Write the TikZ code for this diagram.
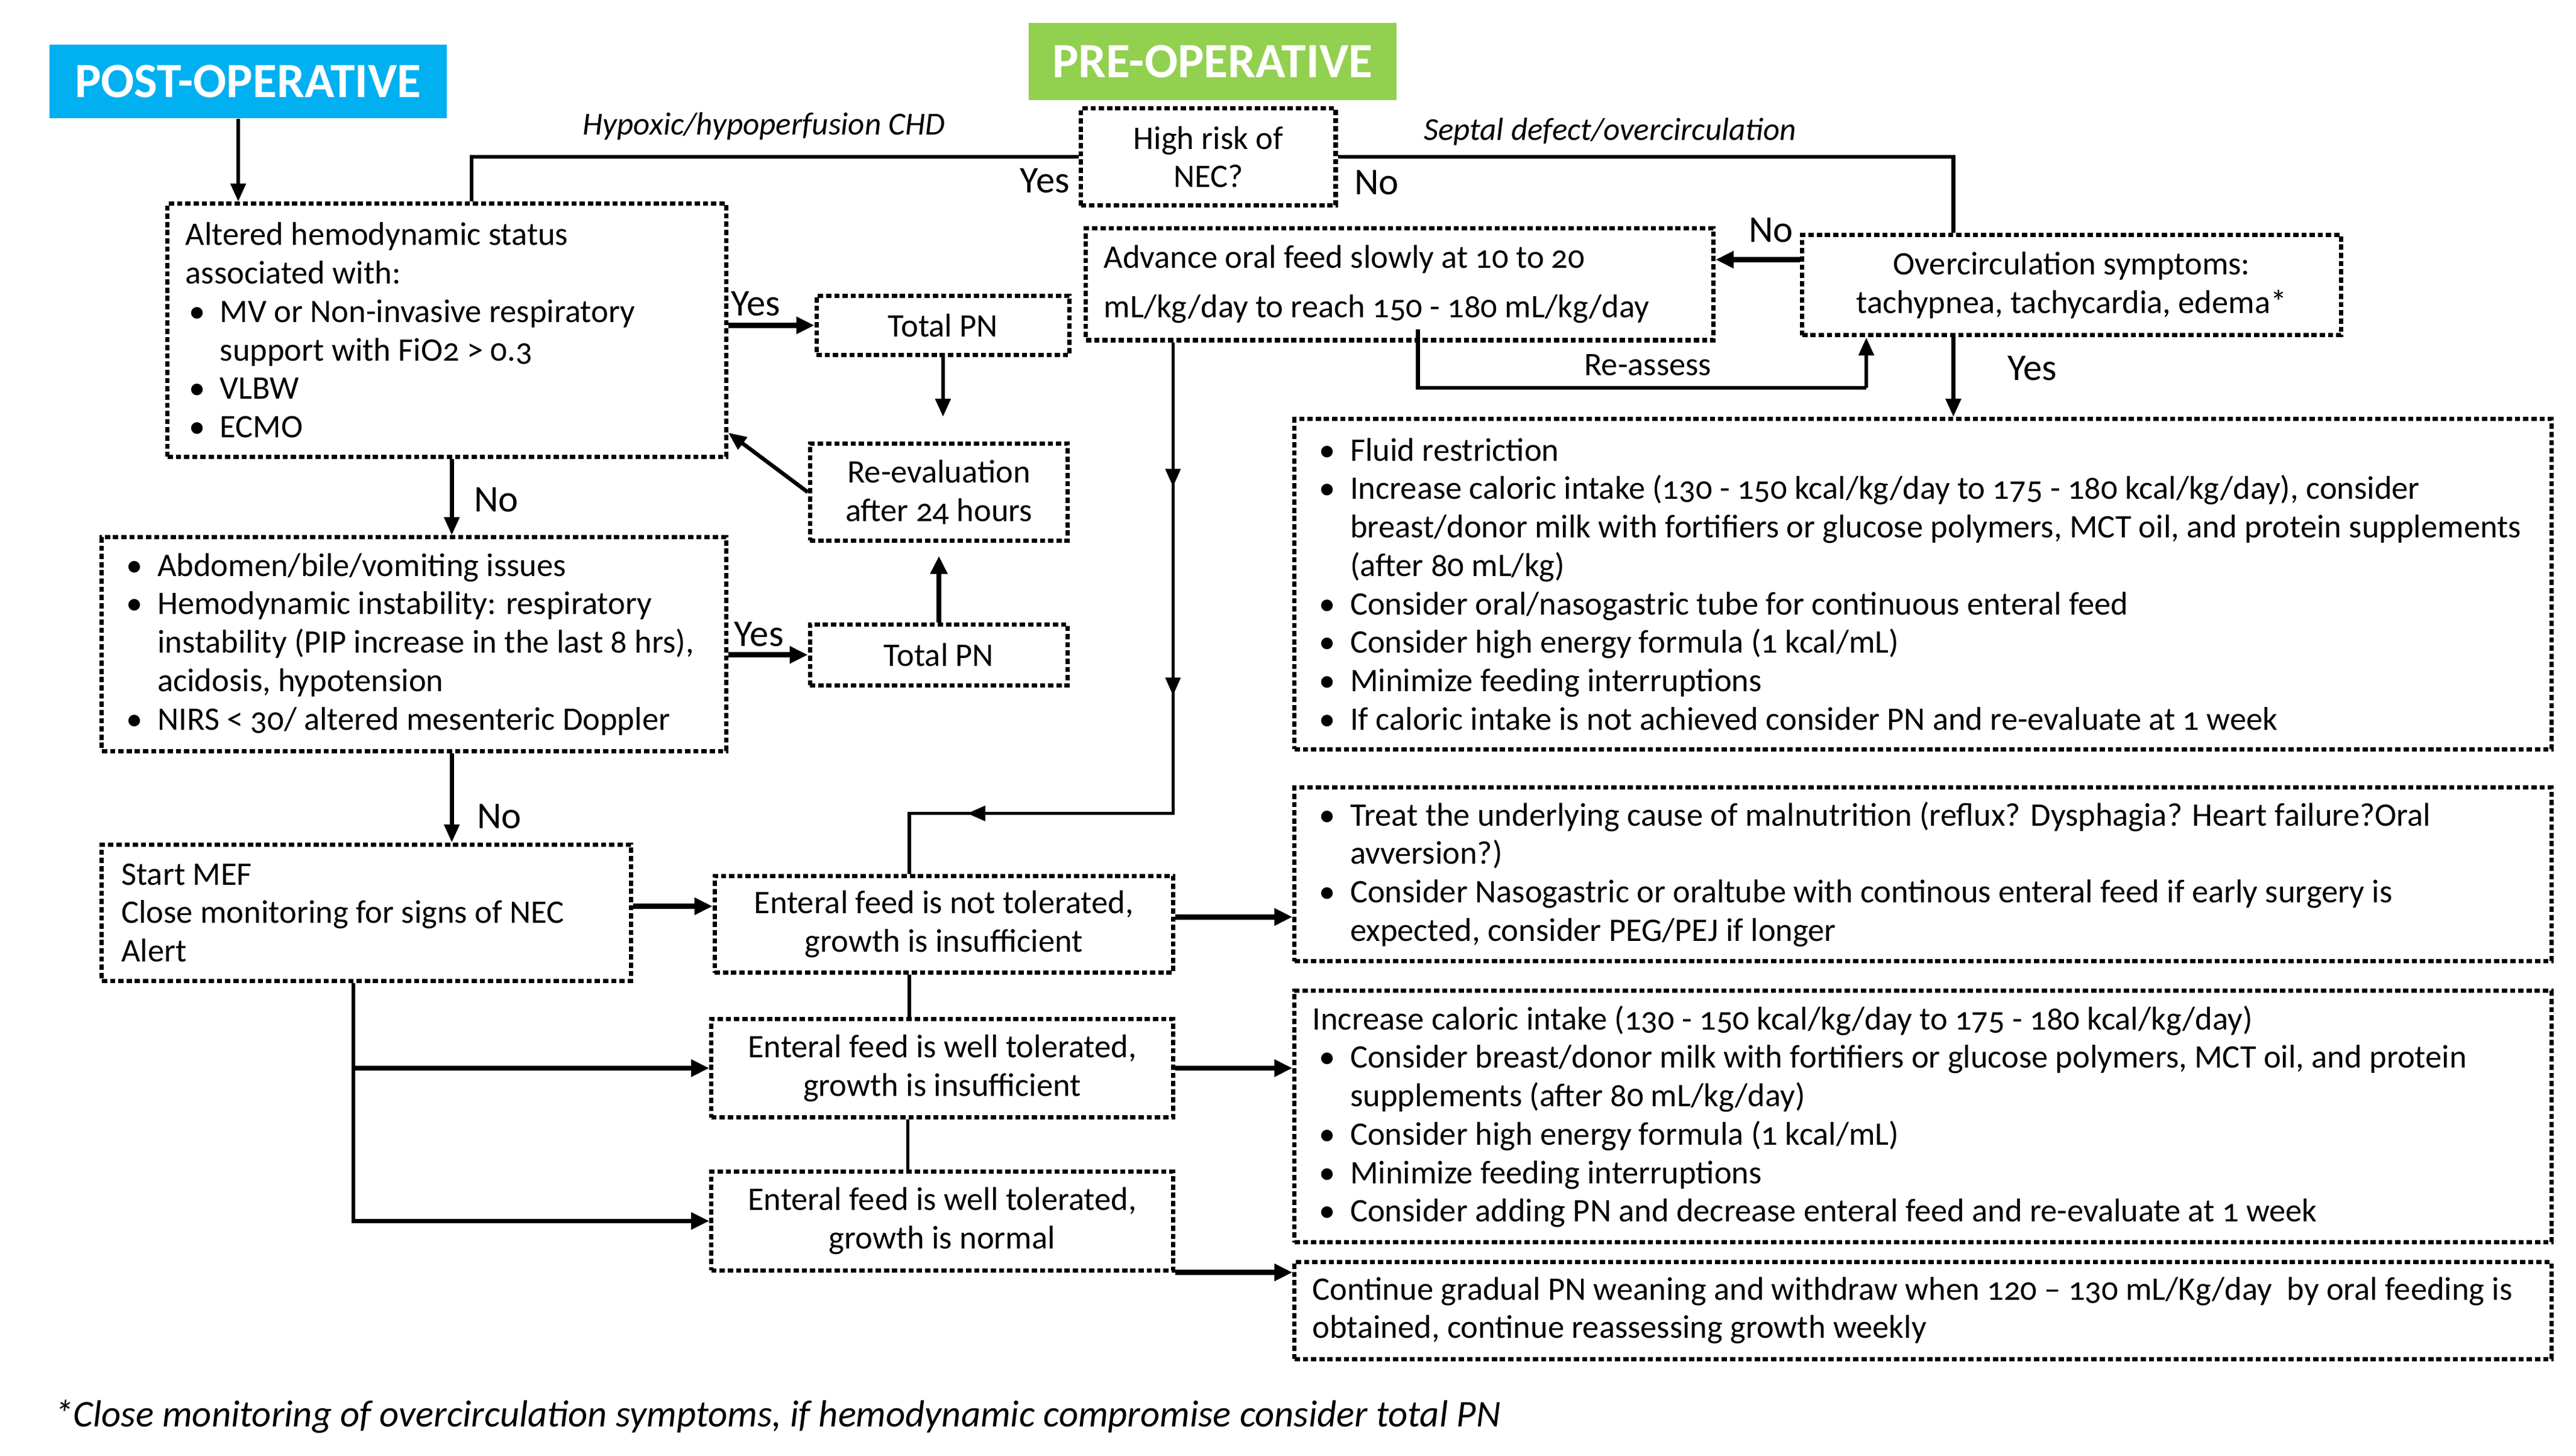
\documentclass[tikz,border=0pt]{standalone}
\usepackage{fontspec}
\setmainfont{Carlito}[Numbers=OldStyle]
\usetikzlibrary{arrows.meta,decorations.markings,calc}
\definecolor{postblue}{HTML}{00B0F0}
\definecolor{pregreen}{HTML}{92D050}
\newcommand\mybul{\makebox[21pt][l]{\hspace{2pt}\textbullet}}
\newcommand\myind{\hspace*{21pt}}
\begin{document}
\begin{tikzpicture}[x=1pt,y=-1pt,
  box/.style={draw, line width=2.6pt, dash pattern=on 3.2pt off 1.8pt, inner sep=0pt},
  txt/.style={font=\fontsize{20}{23.4}\selectfont, inner sep=0pt, align=left},
  ctxt/.style={font=\fontsize{20}{23.4}\selectfont, align=center},
  head/.style={text=white, font=\fontsize{30}{32}\selectfont\bfseries, inner sep=0pt},
  ln/.style={line width=2.4pt},
  thin/.style={line width=2pt},
  arr/.style={line width=2.4pt, -{Triangle[length=11pt,width=9pt]}},
  tarr/.style={line width=3.2pt, -{Triangle[length=11pt,width=10pt]}},
  lab/.style={font=\fontsize{23}{26}\selectfont, inner sep=0pt},
  ilab/.style={font=\fontsize{19.5}{22}\selectfont\itshape, inner sep=0pt},
  tip/.tip={Triangle[length=11pt,width=9pt]},
]
\useasboundingbox[fill=white] (0,0) rectangle (1568,886);

% headers
\node[head, fill=postblue, minimum width=242pt, minimum height=45pt] (post) at (151,49.5) {POST-OPERATIVE};
\node[head, fill=pregreen, minimum width=224pt, minimum height=47pt] (pre) at (738,37.5) {PRE-OPERATIVE};

% boxes
\node[box, ctxt, minimum width=155pt, minimum height=59pt, inner sep=0pt] (nec) at (735.5,95.5) {High risk of\\NEC?};

\node[box, minimum width=340pt, minimum height=154pt] (alt) at (272,201) {};
\node[txt, anchor=west] (altT) at ([xshift=12pt]alt.west) {Altered hemodynamic status\\
associated with:\\
\mybul MV or Non-invasive respiratory\\
\myind support with FiO2 > 0.3\\
\mybul VLBW\\
\mybul ECMO};

\node[box, ctxt, minimum width=154pt, minimum height=36pt, inner sep=0pt] (tpn1) at (574,198) {Total PN};
\node[box, ctxt, minimum width=157pt, minimum height=59pt, inner sep=0pt] (reev) at (571.5,299.5) {Re-evaluation\\after 24 hours};

\node[box, minimum width=380pt, minimum height=130pt] (abd) at (252,392) {};
\node[txt, anchor=west] (abdT) at ([xshift=14pt]abd.west) {\mybul Abdomen/bile/vomiting issues\\
\mybul Hemodynamic instability: respiratory\\
\myind instability (PIP increase in the last 8 hrs),\\
\myind acidosis, hypotension\\
\mybul NIRS < 30/ altered mesenteric Doppler};

\node[box, ctxt, minimum width=157pt, minimum height=37pt, inner sep=0pt] (tpn2) at (571.5,398.5) {Total PN};

\node[box, minimum width=322pt, minimum height=83pt] (mef) at (223,555.5) {};
\node[txt, anchor=west] (mefT) at ([xshift=13pt]mef.west) {Start MEF\\
Close monitoring for signs of NEC\\
Alert};

\node[box, ctxt, minimum width=279pt, minimum height=59pt, inner sep=0pt] (ent1) at (574.5,562.5) {Enteral feed is not tolerated,\\growth is insufficient};
\node[box, ctxt, minimum width=281pt, minimum height=60pt, inner sep=0pt] (ent2) at (573.5,650) {Enteral feed is well tolerated,\\growth is insufficient};
\node[box, ctxt, minimum width=281pt, minimum height=60pt, inner sep=0pt] (ent3) at (573.5,743) {Enteral feed is well tolerated,\\growth is normal};

\node[box, minimum width=382pt, minimum height=68pt] (adv) at (852,173) {};
\node[txt, font=\fontsize{20}{30}\selectfont, anchor=west] (advT) at ([xshift=12pt]adv.west) {Advance oral feed slowly at 10 to 20\\
mL/kg/day to reach 150 - 180 mL/kg/day};

\node[box, ctxt, minimum width=328pt, minimum height=61pt, inner sep=0pt] (over) at (1261,173.5) {Overcirculation symptoms:\\tachypnea, tachycardia, edema*};

\node[box, minimum width=765pt, minimum height=201pt] (big) at (1170.5,355.5) {};
\node[txt, anchor=west] (bigT) at ([xshift=14pt]big.west) {\mybul Fluid restriction\\
\mybul Increase caloric intake (130 - 150 kcal/kg/day to 175 - 180 kcal/kg/day), consider\\
\myind breast/donor milk with fortifiers or glucose polymers, MCT oil, and protein supplements\\
\myind (after 80 mL/kg)\\
\mybul Consider oral/nasogastric tube for continuous enteral feed\\
\mybul Consider high energy formula (1 kcal/mL)\\
\mybul Minimize feeding interruptions\\
\mybul If caloric intake is not achieved consider PN and re-evaluate at 1 week};

\node[box, minimum width=765pt, minimum height=106pt] (treat) at (1170.5,532) {};
\node[txt, anchor=west] (treatT) at ([xshift=14pt]treat.west) {\mybul Treat the underlying cause of malnutrition (reflux? Dysphagia? Heart failure?Oral\\
\myind avversion?)\\
\mybul Consider Nasogastric or oraltube with continous enteral feed if early surgery is\\
\myind expected, consider PEG/PEJ if longer};

\node[box, minimum width=765pt, minimum height=153pt] (inc) at (1170.5,679.5) {};
\node[txt, anchor=west] (incT) at ([xshift=12pt]inc.west) {Increase caloric intake (130 - 150 kcal/kg/day to 175 - 180 kcal/kg/day)\\
\hspace*{2pt}\mybul Consider breast/donor milk with fortifiers or glucose polymers, MCT oil, and protein\\
\hspace*{2pt}\myind supplements (after 80 mL/kg/day)\\
\hspace*{2pt}\mybul Consider high energy formula (1 kcal/mL)\\
\hspace*{2pt}\mybul Minimize feeding interruptions\\
\hspace*{2pt}\mybul Consider adding PN and decrease enteral feed and re-evaluate at 1 week};

\node[box, minimum width=765pt, minimum height=59pt] (cont) at (1170.5,797.5) {};
\node[txt, anchor=west] (contT) at ([xshift=12pt]cont.west) {Continue gradual PN weaning and withdraw when 120 – 130 mL/Kg/day ~by oral feeding is\\
obtained, continue reassessing growth weekly};

% footnote
\node[font=\fontsize{23}{26}\selectfont\itshape, anchor=west, inner sep=0pt] (foot) at (33,862) {*Close monitoring of overcirculation symptoms, if hemodynamic compromise consider total PN};

% bend points
\coordinate (j1) at (714,495);
\coordinate (j2) at (1136,236);

% connectors
\draw[arr] ([xshift=-6pt]post.south) -- ([xshift=-6pt]post.south |- alt.north);
\draw[ln] (nec.west) -| ([xshift=15pt]alt.north);
\draw[ln] (nec.east) -| ([xshift=-72pt]over.north);

\draw[tarr] (alt.east |- tpn1.west) -- (tpn1.west);
\draw[arr, shorten >=15pt] (tpn1.south) -- (tpn1.south |- reev.north);
\draw[arr] (reev.west) -- ([yshift=16pt]alt.south east);
\draw[arr] ([xshift=3pt]alt.south) -- ([xshift=3pt]alt.south |- abd.north);
\draw[tarr] (abd.east |- tpn2.west) -- (tpn2.west);
\draw[tarr, shorten >=8pt] (tpn2.north) -- (reev.south);
\draw[arr] ([xshift=23pt]abd.south) -- ([xshift=23pt]abd.south |- mef.north);
\draw[tarr] ([yshift=4pt]mef.east) -- ([yshift=4pt]mef.east -| ent1.west);

\draw[ln, -{Triangle[length=11pt,width=10pt]}] ([xshift=-8pt]mef.south) |- (ent3.west);
\draw[tarr] ([xshift=-8pt]mef.south |- ent2.west) -- (ent2.west);

\draw[thin] ([xshift=-21pt]ent1.south) -- ([xshift=-21pt]ent1.south |- ent2.north);
\draw[thin] ([xshift=-21pt]ent2.south) -- ([xshift=-21pt]ent2.south |- ent3.north);

\draw[thin, postaction={decorate}, decoration={markings,
  mark=at position 88pt with {\arrow{tip}},
  mark=at position 215pt with {\arrow{tip}},
  mark=at position 412pt with {\arrow{tip}}}]
  ([xshift=-138pt]adv.south) -- (j1) -| ([xshift=-21pt]ent1.north);

\draw[tarr] ([yshift=4.5pt]ent1.east) -- ([yshift=4.5pt]ent1.east -| treat.west);
\draw[tarr] (ent2.east) -- (ent2.east -| inc.west);
\draw[tarr] (ent3.south east) -- (ent3.south east -| cont.west);

\draw[tarr] ([yshift=15.5pt]over.west) -- ([yshift=15.5pt]over.west -| adv.east);
\draw[arr] ([xshift=-72pt]over.south) -- ([xshift=-72pt]over.south |- big.north);
\draw[ln] ([xshift=11pt,yshift=8pt]adv.south) |- (j2);
\draw[arr] (j2) -- ([xshift=-125pt]over.south);

% labels
\node[ilab] (lhyp) at (465,77) {Hypoxic/hypoperfusion CHD};
\node[ilab] (lsep) at (980,80) {Septal defect/overcirculation};
\node[lab] (lyes1) at (636,110) {Yes};
\node[lab] (lno1) at (838,111) {No};
\node[lab] (lyes2) at (460,185) {Yes};
\node[lab] (lyes3) at (462,386) {Yes};
\node[lab] (lno2) at (302,304) {No};
\node[lab] (lno3) at (304,497) {No};
\node[lab] (lno4) at (1078,140) {No};
\node[lab] (lyes4) at (1237,224) {Yes};
\node[font=\fontsize{20}{23}\selectfont, inner sep=0pt] (lre) at (1003,222) {Re-assess};
\end{tikzpicture}
\end{document}
